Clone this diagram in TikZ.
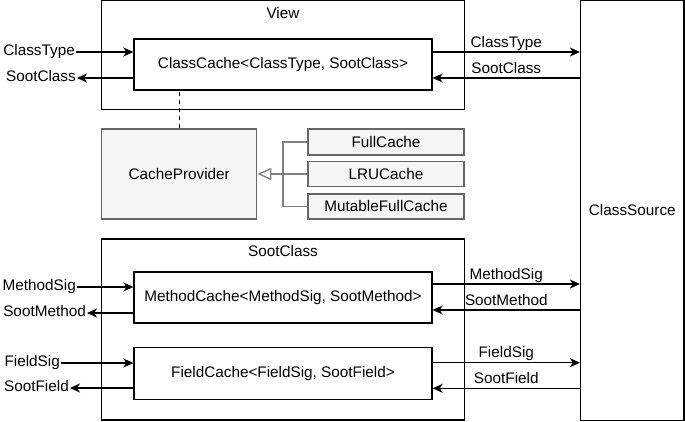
\documentclass[tikz,border=0pt]{standalone}
\usepackage{fontspec}
\setmainfont{Liberation Sans}
\usetikzlibrary{arrows.meta}
\definecolor{provfill}{HTML}{F5F5F5}
\definecolor{provline}{HTML}{666666}
\definecolor{genline}{HTML}{808080}

\begin{document}
\begin{tikzpicture}[x=1pt, y=-1pt,
        font=\fontsize{15.3}{18}\selectfont,
        box/.style={draw, line width=1.3pt, inner sep=0pt},
        impl/.style={draw=provline, fill=provfill, line width=1.3pt, inner sep=0pt},
        txt/.style={inner sep=1pt, text height=11pt, text depth=3.3pt},
        flow/.style={line width=1.3pt, -{Stealth[length=10pt, width=9pt, inset=3pt]}},
        gen/.style={draw=genline, line width=1.3pt}]
        \useasboundingbox (0,0) rectangle (685,421);

        % Draw the view with its class cache
        \node[box, minimum width=363pt, minimum height=109pt] (view) at (283,55) {};
        \node[txt] (viewlbl) at ([yshift=-15pt]view.north) {View};
        \node[box, minimum width=298pt, minimum height=51pt] (cc) at (283,64.5) {ClassCache<ClassType, SootClass>};

        % Draw the class source
        \node[box, minimum width=103.5pt, minimum height=419.5pt] (src) at (632.3,210.5) {ClassSource};

        % Draw the cache provider and its implementations
        \node[impl, minimum width=155pt, minimum height=90pt] (prov) at (179.2,174) {CacheProvider};
        \node[impl, minimum width=156pt, minimum height=26pt] (fc) at (386,142) {FullCache};
        \node[impl, minimum width=156pt, minimum height=25pt] (lru) at (386,174) {LRUCache};
        \node[impl, minimum width=156pt, minimum height=25pt] (mfc) at (386,206.5) {MutableFullCache};
        \coordinate (bus) at (283,174);
        \draw[gen] (fc.west) -| (bus) |- (mfc.west);
        \draw[gen, -{Triangle[open, length=14pt, width=12pt]}] (lru.west) -- (prov.east);
        \draw[line width=1.3pt, dash pattern=on 4pt off 4pt] (prov.north) -- (prov.north |- cc.south); % Provider link

        % Draw the soot class with its member caches
        \node[box, minimum width=363pt, minimum height=181pt] (sc) at (283,329.5) {};
        \node[txt] (sclbl) at ([yshift=-14.3pt]sc.north) {SootClass};
        \node[box, minimum width=298pt, minimum height=51pt] (mc) at (283,297.5) {MethodCache<MethodSig, SootMethod>};
        \node[box, minimum width=298pt, minimum height=52pt] (fdc) at (283,373.3) {FieldCache<FieldSig, SootField>};

        % Draw the inputs and outputs on the left
        \node[txt, anchor=east] (ctIn) at (76,52) {ClassType};
        \node[txt, anchor=east] (scOut) at (77,78) {SootClass};
        \node[txt, anchor=east] (msIn) at (77,287) {MethodSig};
        \node[txt, anchor=east] (smOut) at (87,313) {SootMethod};
        \node[txt, anchor=east] (fsIn) at (61,363) {FieldSig};
        \node[txt, anchor=east] (sfOut) at (70,388) {SootField};
        \draw[flow] (ctIn.east) -- (ctIn.east -| cc.west);
        \draw[flow] (scOut.east -| cc.west) -- (scOut.east);
        \draw[flow] (msIn.east) -- (msIn.east -| mc.west);
        \draw[flow] (smOut.east -| mc.west) -- (smOut.east);
        \draw[flow] (fsIn.east) -- (fsIn.east -| fdc.west);
        \draw[flow] (sfOut.east -| fdc.west) -- (sfOut.east);

        % Draw the lookups towards the class source
        \coordinate (ctR) at ([yshift=12.5pt]cc.east);
        \coordinate (scR) at ([yshift=-13.5pt]cc.east);
        \coordinate (msR) at ([yshift=13.5pt]mc.east);
        \coordinate (smR) at ([yshift=-12.5pt]mc.east);
        \coordinate (fsR) at ([yshift=10.6pt]fdc.east);
        \coordinate (sfR) at ([yshift=-15pt]fdc.east);
        \draw[flow] (ctR) -- (ctR -| src.west) node[txt, midway, above] {ClassType};
        \draw[flow] (scR -| src.west) -- (scR) node[txt, midway, above] {SootClass};
        \draw[flow] (msR) -- (msR -| src.west) node[txt, midway, above] {MethodSig};
        \draw[flow] (smR -| src.west) -- (smR) node[txt, midway, above] {SootMethod};
        \draw[flow] (fsR) -- (fsR -| src.west) node[txt, midway, above] {FieldSig};
        \draw[flow] (sfR -| src.west) -- (sfR) node[txt, midway, above] {SootField};

    \end{tikzpicture}
\end{document}
